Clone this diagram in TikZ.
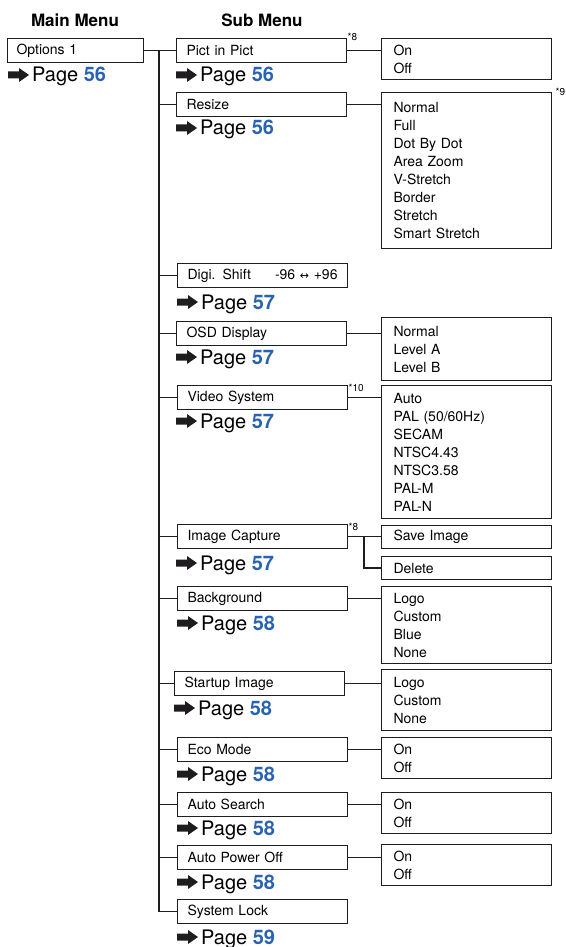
\documentclass[tikz,border=0pt]{standalone}
\usepackage{fontspec}
\setmainfont{TeX Gyre Heros}
\newfontfamily\symfnt{DejaVu Sans}
\definecolor{pageblue}{RGB}{41,98,178}
\definecolor{ink}{RGB}{30,28,30}
\tikzset{
  box/.style={draw=ink, line width=1.1pt, anchor=north west, inner xsep=10pt, inner ysep=0pt,
    minimum height=24pt, text width=150pt, align=left, font=\fontsize{14}{18}\selectfont},
  opt/.style={draw=ink, line width=1.1pt, anchor=north west, inner xsep=12pt, inner ysep=0pt,
    text width=146pt, align=left, font=\fontsize{14}{18}\selectfont},
  conn/.style={draw=ink, line width=1.5pt},
  pg/.style={anchor=base west, inner sep=0pt, font=\fontsize{20}{20}\selectfont},
  ttl/.style={font=\bfseries\fontsize{17}{17}\selectfont, inner sep=0pt},
  fn/.style={anchor=west, inner sep=0.5pt, font=\fontsize{10}{10}\selectfont},
  pagearrow/.pic={\fill[ink] (0,-3.5) -- (11,-3.5) -- (11,-7) -- (21,0) -- (11,7) -- (11,3.5) -- (0,3.5) -- cycle;}
}
\newcommand\pagelnk[4]{%
  \pic at (#2,#3) {pagearrow};
  \node[pg, xshift=24pt, yshift=-7pt] (#1) at (#2,#3) {Page \textcolor{pageblue}{\bfseries #4}};}
\begin{document}
\begin{tikzpicture}[x=1pt,y=-1pt]
\useasboundingbox (0,0) rectangle (565,947);
% titles
\node[ttl] (mm) at (75,20) {Main Menu};
\node[ttl] (sm) at (262,20) {Sub Menu};
% main menu
\node[box, text width=118pt, inner xsep=9pt] (opt1) at (7,38) {Options 1};
\pagelnk{p-opt1}{8}{75}{56}
% sub menu boxes
\node[box] (pip) at (176,38) {Pict in Pict};
\pagelnk{p-pip}{176}{75}{56}
\node[box] (rsz) at (176,92) {Resize};
\pagelnk{p-rsz}{176}{128}{56}
\node[box] (digi) at (177,263) {Digi. Shift\hfill -96 {\symfnt\fontsize{11}{11}\selectfont ↔} +96};
\pagelnk{p-digi}{177}{302}{57}
\node[box] (osd) at (176,321) {OSD Display};
\pagelnk{p-osd}{176}{357}{57}
\node[box] (vid) at (177,385) {Video System};
\pagelnk{p-vid}{176}{421}{57}
\node[box] (icap) at (177,524) {Image Capture};
\pagelnk{p-icap}{176}{563}{57}
\node[box] (bg) at (177,586) {Background};
\pagelnk{p-bg}{177}{623}{58}
\node[box] (stup) at (174,671) {Startup Image};
\pagelnk{p-stup}{174}{708}{58}
\node[box] (eco) at (177,737) {Eco Mode};
\pagelnk{p-eco}{177}{774}{58}
\node[box] (asrch) at (177,792) {Auto Search};
\pagelnk{p-asrch}{177}{828}{58}
\node[box] (apo) at (177,845) {Auto Power Off};
\pagelnk{p-apo}{177}{882}{58}
\node[box] (slock) at (177,899) {System Lock};
\pagelnk{p-slock}{177}{937}{59}
% option boxes
\node[opt, minimum height=41pt] (o-pip) at (381,38) {On\\Off};
\node[opt, minimum height=156pt] (o-rsz) at (381,92) {Normal\\Full\\Dot By Dot\\Area Zoom\\V-Stretch\\Border\\Stretch\\Smart Stretch};
\node[opt, minimum height=63pt] (o-osd) at (381,317) {Normal\\Level A\\Level B};
\node[opt, minimum height=133pt] (o-vid) at (381,385) {Auto\\PAL (50/60Hz)\\SECAM\\NTSC4.43\\NTSC3.58\\PAL-M\\PAL-N};
\node[opt, minimum height=23pt] (o-save) at (381,525) {Save Image};
\node[opt, minimum height=23pt] (o-del) at (381,556) {Delete};
\node[opt, minimum height=77pt] (o-bg) at (381,586) {Logo\\Custom\\Blue\\None};
\node[opt, minimum height=61pt] (o-st) at (381,669) {Logo\\Custom\\None};
\node[opt, minimum height=41pt] (o-eco) at (381,737) {On\\Off};
\node[opt, minimum height=41pt] (o-as) at (381,792) {On\\Off};
\node[opt, minimum height=41pt] (o-apo) at (381,844) {On\\Off};
% footnote marks
\node[fn] (f8a) at (347,37) {*8};
\node[fn] (f9) at (555,92) {*9};
\node[fn] (f10) at (348,388) {*10};
\node[fn] (f8b) at (348,527) {*8};
% connectors
\coordinate (trunk) at (159,0);
\coordinate (jn) at (364,0);
\draw[conn] (opt1.east) -- (pip.west);
\draw[conn] (opt1.east -| trunk) |- (slock.west);
\foreach \n in {rsz,digi,osd,vid,icap,bg,stup,eco,asrch,apo}
  \draw[conn] (trunk |- \n.west) -- (\n.west);
\foreach \a/\b in {pip/o-pip, rsz/o-rsz, osd/o-osd, vid/o-vid, bg/o-bg, stup/o-st, eco/o-eco, asrch/o-as, apo/o-apo}
  \draw[conn] (\a.east) -- (\a.east -| \b.west);
\draw[conn] (icap.east) -- (icap.east -| o-save.west);
\draw[conn] (icap.east -| jn) |- (o-del.west);
\end{tikzpicture}
\end{document}
